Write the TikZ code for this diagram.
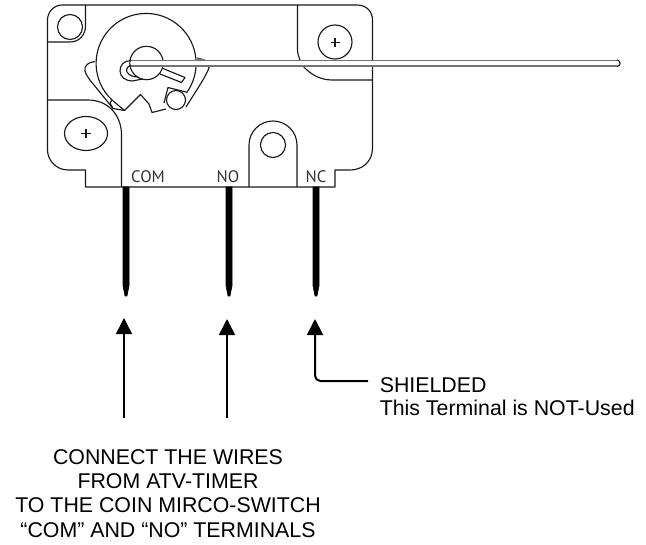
\documentclass[tikz,border=0pt]{standalone}
\usepackage{fontspec}
\setmainfont{Liberation Sans}
\newfontfamily\pinfont{PT Sans}
\usetikzlibrary{arrows.meta}
\definecolor{wiregray}{gray}{0.45}
\tikzset{
  outline/.style={draw=black!90, line width=0.85pt, line join=round},
  wireline/.style={draw=wiregray, line width=1.4pt},
  pinwire/.style={draw=black, fill=black},
  pointer/.style={draw=black, line width=1.1pt, -{Triangle[length=12pt,width=12pt]}},
  pinlabel/.style={font=\pinfont\fontsize{12.5}{14}\selectfont, text=black!80, inner sep=0pt, anchor=base},
  caption/.style={font=\fontsize{16}{18.2}\selectfont, inner sep=0pt},
}
\begin{document}
\begin{tikzpicture}[x=0.75pt,y=-0.75pt]
  \useasboundingbox (0,0) rectangle (646,545);

  % body of the switch
  \draw[outline] (62,5) -- (357,5) .. controls (367,5) and (372.5,12) .. (372.5,20) -- (372.5,148)
    .. controls (372.5,162) and (362,170) .. (350,170) -- (335,170) -- (335,187) -- (85.5,187) -- (85.5,170) -- (68,170)
    .. controls (56,170) and (47.5,160) .. (47.5,150) -- (47.5,20) .. controls (47.5,12) and (54,5) .. (62,5);

  % mounting corners
  \draw[outline] (47.5,42) -- (70,42) .. controls (80,42) and (85.5,34) .. (85.5,26) -- (85.5,5);
  \draw[outline] (70,27) circle (12.5);
  \draw[outline] (47.5,100) -- (88,100) .. controls (108,100) and (121.5,115) .. (121.5,135) -- (121.5,187);
  \draw[outline] (86,133.5) ellipse (21.5 and 17);
  \draw[outline] (86,129) -- (86,138) (81,133.5) -- (91,133.5);
  \draw[outline] (297.5,5) -- (297.5,50) .. controls (297.5,54) and (299,57) .. (300,60);
  \draw[outline] (303,66) .. controls (310,74) and (320,80) .. (332,80) -- (372.5,80);
  \draw[outline] (335,42) circle (17);
  \draw[outline] (335,38) -- (335,47) (330.5,42.5) -- (339.5,42.5);
  \draw[outline] (249,187) -- (249,145) arc[start angle=180,end angle=360,radius=24] -- (297,187);
  \draw[outline] (273,145) circle (12.5);

  % cam, levers, roller
  \draw[outline] (112,100) arc[start angle=133,end angle=396,radius=50];
  \draw[outline] (112,100) -- (124.5,110.5) -- (140.5,94.5) -- (149,104) -- (152,112.5) -- (166,109);
  \draw[outline] (95,61.5) .. controls (88,62) and (84,66) .. (85,71) .. controls (87,78) and (92,82) .. (113,108.5) -- (124.5,110.5);
  \draw[outline] (112,100) -- (110,103) -- (113,108.5);
  \draw[outline] (197,58) .. controls (203,58) and (208,64) .. (209,68) .. controls (206,76) and (198,88) .. (186,107);
  \draw[outline] (164,103) -- (168,87.5) -- (186,92);
  \draw[outline,fill=white] (176,100) circle (9.5);
  \draw[outline] (146.5,63) circle (16.7);
  \draw[outline] (163,68.5) -- (185,77.5) -- (181.5,82.5) -- (160,74);
  \fill[wiregray] (197,58) -- (204,59) -- (207,61) -- (197,61) -- cycle;

  % wire over the body
  \fill[white] (131,61) rectangle (617,66);
  \draw[wireline] (131,60.5) -- (617,60.5);
  \draw[wireline] (131,66) -- (617,66);
  \draw[outline] (131,60.5) .. controls (124,60.5) and (120,65) .. (120,71) .. controls (120,77) and (126,81) .. (132,81) -- (143,79);
  \draw[outline] (131,65.5) .. controls (127,66) and (126,70) .. (127,72) .. controls (129,75) and (132,77) .. (138,77);
  \draw[outline] (617,60) .. controls (621,60) and (621,66.5) .. (617,66.5);

  % pins
  \foreach \x in {126,229,316} {
    \draw[pinwire] (\x-3,187) -- (\x+3,187) -- (\x+3,286) -- (\x+1,296) -- (\x-1,296) -- (\x-3,286) -- cycle;
  }
  \node[pinlabel] (com) at (148,183) {COM};
  \node[pinlabel] (no) at (228,183) {NO};
  \node[pinlabel] (nc) at (316,183) {NC};

  % pointers
  \coordinate (comfoot) at (124,418);
  \coordinate (comtip) at (124,318);
  \coordinate (nofoot) at (227,418);
  \coordinate (notip) at (227,319);
  \coordinate (nctip) at (315,319);
  \coordinate (ncfoot) at (368,381);
  \draw[pointer] (comfoot) -- (comtip);
  \draw[pointer] (nofoot) -- (notip);
  \draw[pointer,line width=1.5pt,rounded corners=4pt] (ncfoot) -| (nctip);

  \node[caption,align=left,anchor=base west] (shielded) at (379.5,415) {SHIELDED\\[-1.2pt]This Terminal is NOT-Used};
  \node[caption,align=center,anchor=base] (connect) at (168,537) {CONNECT THE WIRES\\FROM ATV-TIMER\\TO THE COIN MIRCO-SWITCH\\“COM” AND “NO” TERMINALS};
\end{tikzpicture}
\end{document}
